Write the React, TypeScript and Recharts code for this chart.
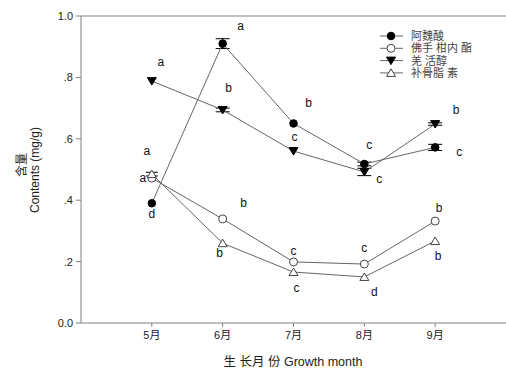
import React from 'react';
import {
  LineChart,
  Line,
  XAxis,
  YAxis,
  ReferenceLine,
  ErrorBar,
  LabelList
} from 'recharts';

// --- Data ---
const months = [5, 6, 7, 8, 9];
const yTicks = [0, 0.2, 0.4, 0.6, 0.8, 1.0];

const seriesNames = ['阿魏酸', '佛手 柑内 酯', '羌 活醇', '补骨脂 素'];

const ferulic = [0.39, 0.91, 0.65, 0.518, 0.572];
const ferulicErr = [0, 0.016, 0, 0.006, 0.01];
const ferulicLetters = ['d', 'a', 'b', 'c', 'c'];

const bergapten = [0.472, 0.339, 0.199, 0.192, 0.332];
const bergaptenLetters = ['a', 'b', 'c', 'c', 'b'];

const notopterol = [0.788, 0.694, 0.56, 0.492, 0.648];
const notopterolErr = [0, 0.006, 0, 0.012, 0.004];
const notopterolLetters = ['a', 'b', 'c', 'c', 'b'];

const psoralen = [0.485, 0.26, 0.166, 0.15, 0.267];
const psoralenErr = [0.006, 0, 0, 0, 0];
const psoralenLetters = ['a', 'b', 'c', 'd', 'b'];

const data = months.map((m, i) => ({
  month: m,
  ferulic: ferulic[i],
  ferulicErr: ferulicErr[i],
  bergapten: bergapten[i],
  notopterol: notopterol[i],
  notopterolErr: notopterolErr[i],
  psoralen: psoralen[i],
  psoralenErr: psoralenErr[i],
}));

// letter placement relative to each point (px)
const ferulicOffsets = [[0, 11], [18, -18], [15, -20], [5, -19], [24, 5]];
const bergaptenOffsets = [[-9, 0], [21, -16], [0, -11], [0, -16], [4, -13]];
const notopterolOffsets = [[9, -19], [6, -22], [1, -14], [15, 7], [21, -14]];
const psoralenOffsets = [[-5, -23], [-3, 10], [3, 16], [10, 15], [3, 15]];

const FONT = '"Liberation Sans", Arial, "Noto Sans CJK SC", sans-serif';
const LINE = '#666';
const AXIS = '#808080';

// --- Markers ---
const Marker = ({ kind, cx, cy }: { kind: number; cx: number; cy: number }) => {
  if (kind === 0) return <circle cx={cx} cy={cy} r={3.8} fill="#000" stroke="#000" />;
  if (kind === 1) return <circle cx={cx} cy={cy} r={4} fill="#fff" stroke="#444" strokeWidth={1} />;
  if (kind === 2)
    return <polygon points={`${cx - 4.5},${cy - 3.5} ${cx + 4.5},${cy - 3.5} ${cx},${cy + 4}`} fill="#000" stroke="#000" />;
  return <polygon points={`${cx - 4.5},${cy + 3.5} ${cx + 4.5},${cy + 3.5} ${cx},${cy - 4}`} fill="#fff" stroke="#444" />;
};

const makeDot = (kind: number) => (p: any) => (
  <Marker key={`m-${kind}-${p.index}`} kind={kind} cx={p.cx} cy={p.cy} />
);

const makeLetter = (letters: string[], offsets: number[][]) => (p: any) => {
  const i = p.index;
  const [dx, dy] = offsets[i];
  return (
    <text
      key={`l-${i}`}
      x={p.x + dx}
      y={p.y + dy}
      textAnchor="middle"
      dominantBaseline="central"
      fontSize={12}
      fontFamily={FONT}
      fill="#111"
      stroke="none"
    >
      {letters[i]}
    </text>
  );
};

const fmtY = (v: number) => {
  if (v === 0) return '0.0';
  if (v === 1) return '1.0';
  return v.toFixed(1).replace(/^0/, '');
};

const LegendBox: React.FC = () => (
  <svg width={126} height={56} style={{ display: 'block' }}>
    {seriesNames.map((name, i) => {
      const y = 8 + i * 12.3;
      return (
        <g key={name}>
          <line x1={0} y1={y} x2={23} y2={y} stroke={LINE} strokeWidth={1} />
          <Marker kind={i} cx={11} cy={y} />
          <text x={31} y={y} dominantBaseline="central" fontSize={11} fontFamily={FONT} fill="#444">
            {name}
          </text>
        </g>
      );
    })}
  </svg>
);

const YLabel = () => {
  const cy = 168;
  return (
    <g>
      <text x={22} y={cy - 3} transform={`rotate(-90 22 ${cy - 3})`} textAnchor="middle" dominantBaseline="central" fontSize={12} fontFamily={FONT} fill="#222">
        含量
      </text>
      <text x={35} y={cy + 2} transform={`rotate(-90 35 ${cy + 2})`} textAnchor="middle" dominantBaseline="central" fontSize={12} fontFamily={FONT} fill="#222">
        Contents (mg/g)
      </text>
    </g>
  );
};

const XLabel = () => (
  <text x={293} y={362} textAnchor="middle" dominantBaseline="central" fontSize={12.5} fontFamily={FONT} fill="#222">
    生 长月 份 Growth month
  </text>
);

const App: React.FC = () => {
  return (
    <div style={{ position: 'absolute', left: 0, top: 0, width: 506, height: 374, background: '#fff' }}>
      <LineChart width={506} height={374} data={data} margin={{ top: 16, right: 0, bottom: 21, left: 0 }}>
        <XAxis
          type="number"
          dataKey="month"
          domain={[4, 10]}
          ticks={months}
          tickFormatter={(v: number) => `${v}月`}
          height={30}
          stroke={AXIS}
          tickSize={4}
          tickMargin={4}
          tick={{ fill: '#222', fontSize: 11, fontFamily: FONT }}
          label={<XLabel />}
        />
        <YAxis
          type="number"
          domain={[0, 1]}
          ticks={yTicks}
          tickFormatter={fmtY}
          width={81}
          stroke={AXIS}
          tickSize={5}
          tickMargin={3}
          tick={{ fill: '#222', fontSize: 11, fontFamily: FONT }}
          label={<YLabel />}
        />
        <ReferenceLine y={1} stroke={AXIS} ifOverflow="visible" />
        <Line dataKey="ferulic" stroke={LINE} strokeWidth={1} dot={makeDot(0)} isAnimationActive={false}>
          <ErrorBar dataKey="ferulicErr" width={7} stroke="#000" strokeWidth={1} />
          <LabelList dataKey="ferulic" content={makeLetter(ferulicLetters, ferulicOffsets)} />
        </Line>
        <Line dataKey="bergapten" stroke={LINE} strokeWidth={1} dot={makeDot(1)} isAnimationActive={false}>
          <LabelList dataKey="bergapten" content={makeLetter(bergaptenLetters, bergaptenOffsets)} />
        </Line>
        <Line dataKey="notopterol" stroke={LINE} strokeWidth={1} dot={makeDot(2)} isAnimationActive={false}>
          <ErrorBar dataKey="notopterolErr" width={7} stroke="#000" strokeWidth={1} />
          <LabelList dataKey="notopterol" content={makeLetter(notopterolLetters, notopterolOffsets)} />
        </Line>
        <Line dataKey="psoralen" stroke={LINE} strokeWidth={1} dot={makeDot(3)} isAnimationActive={false}>
          <ErrorBar dataKey="psoralenErr" width={6} stroke="#000" strokeWidth={1} />
          <LabelList dataKey="psoralen" content={makeLetter(psoralenLetters, psoralenOffsets)} />
        </Line>
      </LineChart>
      <div style={{ position: 'absolute', left: 380, top: 28 }}>
        <LegendBox />
      </div>
    </div>
  );
};

export default App;
